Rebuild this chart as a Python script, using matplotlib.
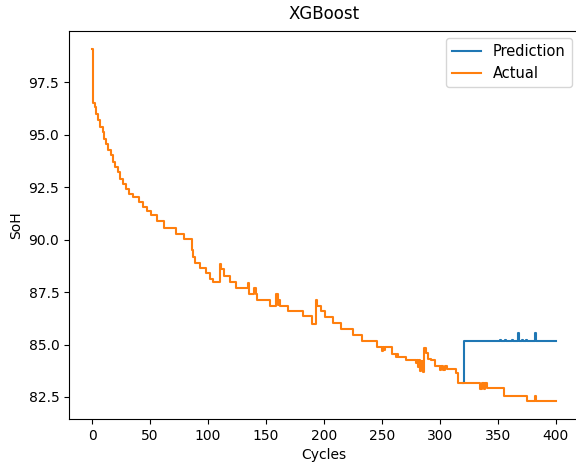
import matplotlib
matplotlib.use('Agg')
import matplotlib.pyplot as plt

# actual SoH as step breakpoints (cycle where a level starts, level)
actual_cycles = [0, 1, 2, 3, 5, 7, 9, 10, 12, 14, 16, 18, 20, 22, 24, 27, 29, 32, 35,
                 40, 44, 47, 51, 56, 62, 72, 79, 86, 87, 89, 93, 98, 102, 104, 110,
                 111, 114, 119, 124, 134, 135, 140, 141, 142, 153, 159, 160, 161, 162,
                 169, 182, 190, 193, 194, 197, 201, 208, 215, 225, 233, 246, 250, 251,
                 252, 253, 259, 262, 263, 264, 271, 279, 280, 281, 282, 283, 284, 285,
                 286, 288, 290, 292, 296, 300, 301, 303, 304, 306, 314, 316, 335, 336,
                 338, 339, 341, 355, 375, 382, 383, 400]
actual_soh = [99.1, 96.5, 96.3, 96.0, 95.68, 95.37, 95.13, 94.81, 94.57, 94.25, 94.01,
              93.69, 93.45, 93.21, 92.89, 92.66, 92.42, 92.18, 92.02, 91.78, 91.54, 91.38,
              91.16, 90.87, 90.56, 90.28, 90.02, 89.5, 89.15, 88.87, 88.63, 88.4, 88.11,
              87.96, 88.85, 88.6, 88.27, 88.0, 87.71, 87.95, 87.39, 87.71, 87.39, 87.12,
              86.83, 87.39, 86.9, 87.1, 86.83, 86.6, 86.35, 85.96, 87.12, 86.83, 86.6,
              86.31, 86.04, 85.72, 85.43, 85.19, 84.87, 84.7, 84.87, 84.72, 84.87, 84.55,
              84.4, 84.55, 84.4, 84.28, 84.1, 84.28, 83.95, 84.28, 83.75, 84.2, 83.7,
              84.84, 84.6, 84.3, 84.28, 83.96, 83.8, 83.96, 83.8, 83.96, 83.85, 83.65,
              83.17, 82.9, 83.17, 82.9, 83.17, 82.93, 82.56, 82.29, 82.56, 82.29, 82.29]

# prediction as step breakpoints
pred_cycles = [320, 321, 352, 353, 356, 357, 362, 363, 367, 368, 371, 372, 374, 375,
               382, 383, 400]
pred_soh = [83.17, 85.15, 85.2, 85.15, 85.22, 85.15, 85.2, 85.15, 85.56, 85.15,
            85.22, 85.18, 85.22, 85.15, 85.56, 85.15, 85.15]

fig = plt.figure(figsize=(5.76, 4.69), dpi=100)
ax = fig.add_axes([0.1198, 0.1066, 0.8854, 0.8273])

ax.plot(pred_cycles, pred_soh, drawstyle='steps-post', label='Prediction')
ax.plot(actual_cycles, actual_soh, drawstyle='steps-post', label='Actual')

ax.set_title('XGBoost', pad=9)
ax.set_xlabel('Cycles')
ax.set_ylabel('SoH')
ax.legend(loc='upper right', fontsize=10.5)

fig.savefig('out.png', dpi=100)
